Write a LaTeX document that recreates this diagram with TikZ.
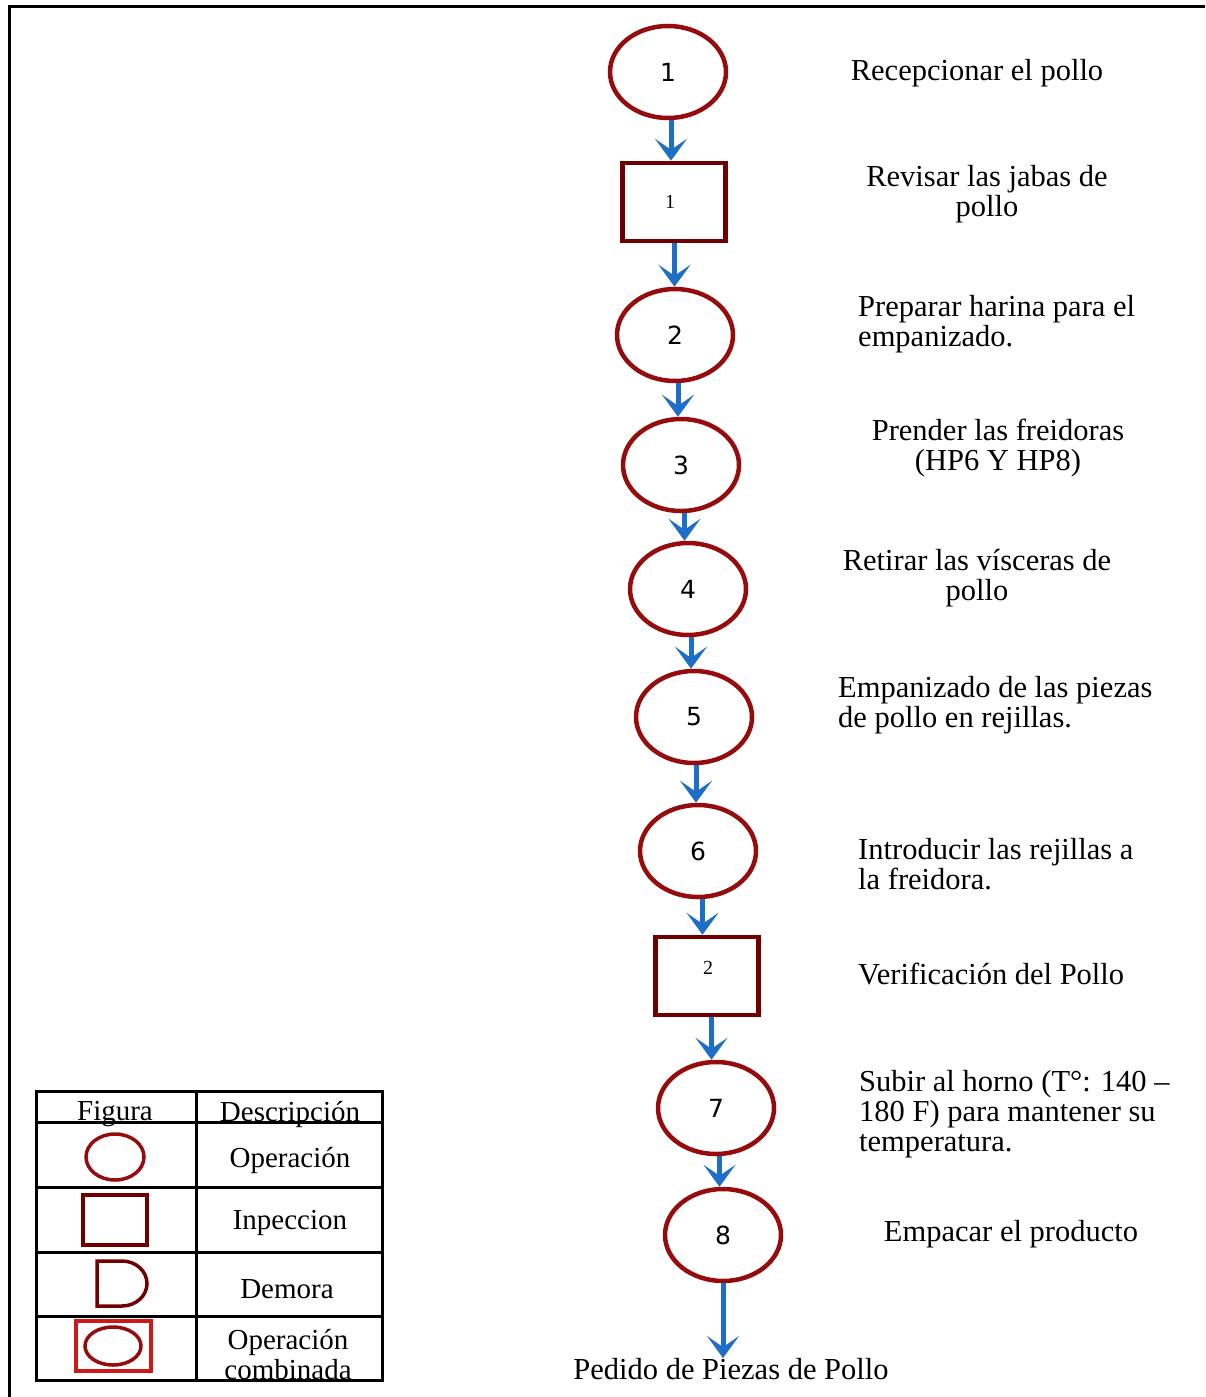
\documentclass[tikz,border=0pt]{standalone}
\usepackage{fontspec}
\setmainfont{Liberation Serif}
\newfontfamily\numfont{DejaVu Sans}
\usetikzlibrary{shapes.geometric,arrows.meta,calc}

\definecolor{opred}{RGB}{150,12,12}
\definecolor{insred}{RGB}{112,0,0}
\definecolor{flowblue}{RGB}{30,110,200}
\definecolor{combred}{RGB}{205,25,25}

\tikzset{
  opnode/.style={ellipse,draw=opred,line width=4.5pt,inner sep=0pt,
    minimum width=116pt,minimum height=92pt,
    font=\numfont\fontsize{25}{25}\selectfont},
  insnode/.style={rectangle,draw=insred,line width=4.5pt,inner sep=0pt,
    minimum width=103pt,minimum height=78pt},
  flow/.style={draw=flowblue,line width=5pt,
    -{Stealth[length=22pt,width=32pt,inset=11pt]}},
  desc/.style={font=\fontsize{30.5}{30}\selectfont,inner sep=0pt},
  legtext/.style={font=\fontsize{29}{30}\selectfont,inner sep=0pt},
  boxnum/.style={font=\fontsize{20}{20}\selectfont,inner sep=0pt},
  grid/.style={line width=3pt,draw=black},
}

\begin{document}
\begin{tikzpicture}[x=1pt,y=-1pt]
\useasboundingbox (0,0) rectangle (1205,1397);

% outer frame (top and left edges)
\draw[line width=3pt] (1205,7) -- (9,7) -- (9,1397);

% process chart
\node[opnode]  (e1) at (668,72)   {1};
\node[insnode] (b1) at (674,202)  {};
\node[boxnum]  (b1l) at (670,202) {1};
\node[opnode]  (e2) at (675,335)  {2};
\node[opnode]  (e3) at (681,465)  {3};
\node[opnode]  (e4) at (688,589)  {4};
\node[opnode]  (e5) at (694,717)  {5};
\node[opnode]  (e6) at (698,851)  {6};
\node[insnode] (b2) at (707,976)  {};
\node[boxnum]  (b2l) at (708,968) {2};
\node[opnode]  (e7) at (716,1108) {7};
\node[opnode]  (e8) at (723,1235) {8};
\node[desc] (out) at (731,1369) {Pedido de Piezas de Pollo};

\foreach \a/\b in {e1/b1,b1/e2,e2/e3,e3/e4,e4/e5,e5/e6,e6/b2,b2/e7,e7/e8}{
  \path ($(\a.south)!.5!(\b.north)$) coordinate (m);
  \draw[flow] (m |- \a.south) -- (m |- \b.north);
}
\draw[flow] (e8.south) -- (e8.south |- out.north);

% step descriptions
\node[desc] (t1) at (977,73) {Recepcionar el pollo};
\node[desc,align=center] (t2) at (987,194) {Revisar las jabas de\\pollo};
\node[desc,align=left,anchor=west] (t3) at (858,324) {Preparar harina para el\\empanizado.};
\node[desc,align=center] (t4) at (998,448) {Prender las freidoras\\(HP6 Y HP8)};
\node[desc,align=center] (t5) at (977,578) {Retirar las vísceras de\\pollo};
\node[desc,align=left,anchor=west] (t6) at (838,705) {Empanizado de las piezas\\de pollo en rejillas.};
\node[desc,align=left,anchor=west] (t7) at (858,864) {Introducir las rejillas a\\la freidora.};
\node[desc,anchor=west] (t8) at (858,974) {Verificación del Pollo};
\node[desc,align=left,anchor=west] (t9) at (859,1114) {Subir al horno (T°: 140 –\\180 F) para mantener su\\temperatura.};
\node[desc] (t10) at (1011,1234) {Empacar el producto};

% legend table
\begin{scope}
  \clip (36,1091) rectangle (382,1380);
  \node[legtext] (hf) at (115,1114) {Figura};
  \node[legtext] (hd) at (290,1114) {Descripción};
  \node[legtext] (l1) at (290,1160) {Operación};
  \node[legtext] (l2) at (290,1223) {Inpeccion};
  \node[legtext] (l3) at (287,1289) {Demora};
  \node[legtext,align=center] (l4) at (288,1355) {Operación\\combinada};
\end{scope}
\draw[grid] (36,1091) rectangle (382,1380);
\draw[grid] (196,1091) -- (196,1380);
\foreach \y in {1122,1187,1252,1316}
  \draw[grid] (36,\y) -- (382,\y);

% legend symbols
\draw[opred,line width=3.5pt] (115,1157) ellipse [x radius=29pt,y radius=23pt];
\draw[insred,line width=4pt] (83,1195) rectangle (147,1245);
\draw[insred,line width=3.5pt] (122,1261) -- (97,1261) -- (97,1306) -- (122,1306)
  arc[start angle=-90,end angle=90,x radius=25pt,y radius=22.5pt];
\draw[combred,line width=4pt] (76,1321) rectangle (151,1371);
\draw[opred,line width=3.5pt] (113,1346) ellipse [x radius=28pt,y radius=19pt];
\end{tikzpicture}
\end{document}
